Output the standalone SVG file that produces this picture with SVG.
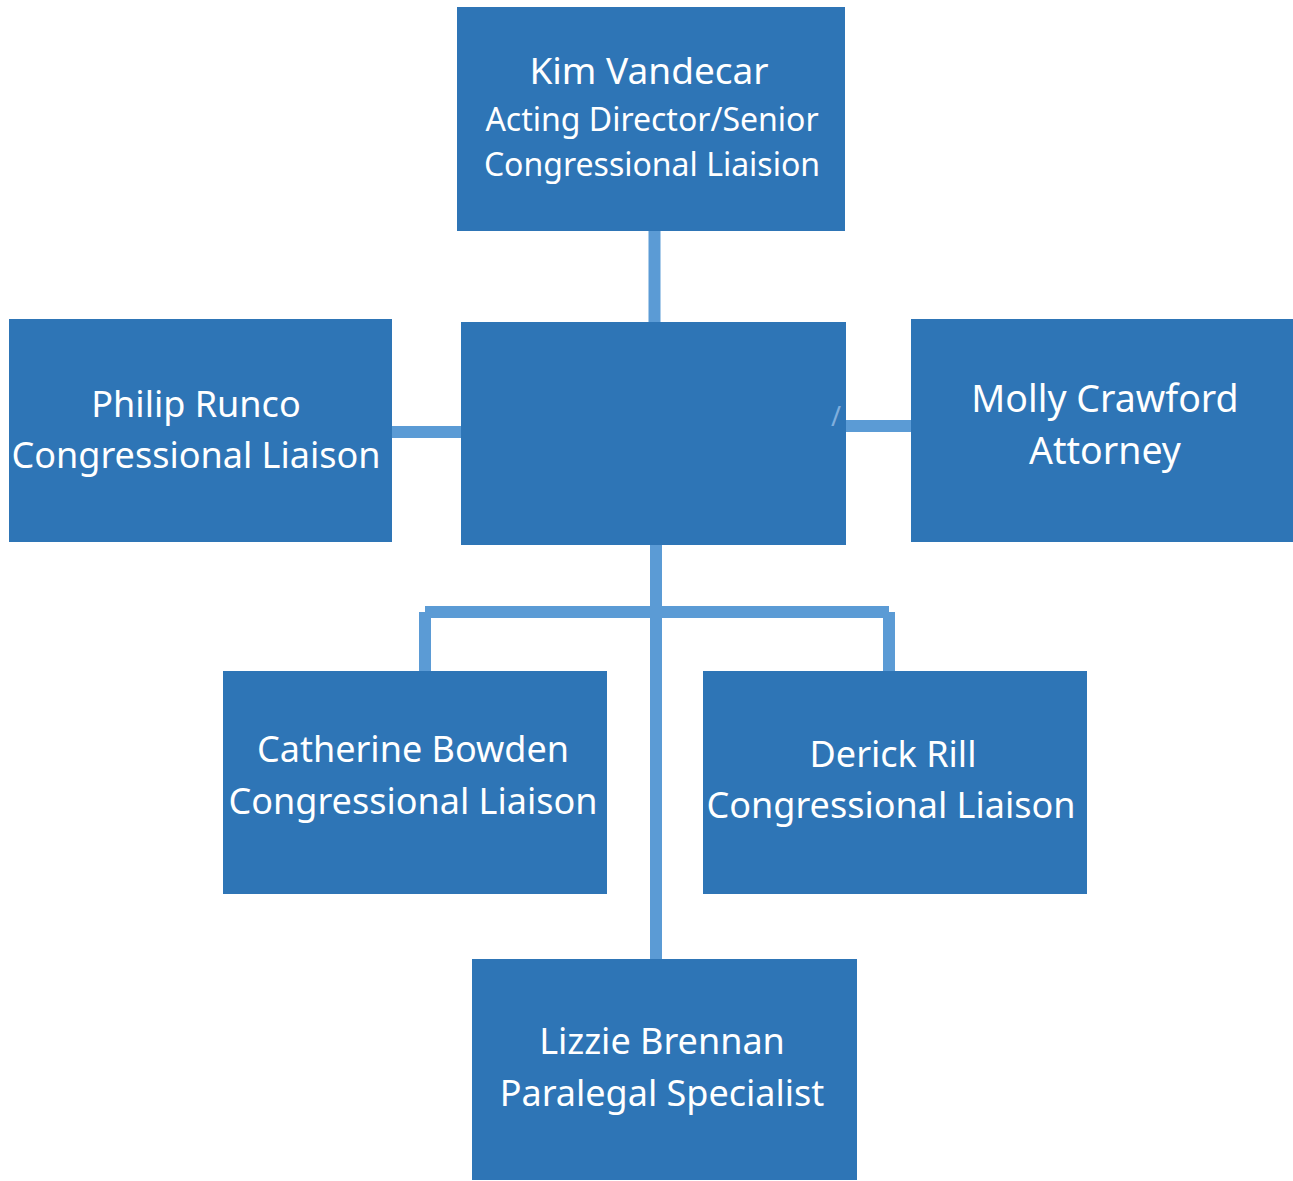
<svg xmlns="http://www.w3.org/2000/svg" width="1293" height="1181" viewBox="0 0 1293 1181">
<style>
.box{fill:#2E75B6}
.t{fill:#FFFFFF;font-family:"Noto Sans","Liberation Sans",sans-serif;font-size:36px;text-anchor:middle}
.s{font-size:32px}
.c{stroke:#5B9BD5;stroke-width:12;fill:none}
</style>
<rect width="1293" height="1181" fill="#FFFFFF"/>
<g id="connectors">
<line class="c" x1="654.5" y1="231" x2="654.5" y2="322"/>
<line class="c" x1="392" y1="432" x2="461" y2="432"/>
<line class="c" x1="846" y1="426" x2="911" y2="426"/>
<line class="c" x1="656" y1="545" x2="656" y2="959"/>
<line class="c" x1="425" y1="612" x2="889" y2="612"/>
<line class="c" x1="425" y1="612" x2="425" y2="671"/>
<line class="c" x1="889" y1="612" x2="889" y2="671"/>
</g>
<g id="kim">
<rect class="box" x="457" y="7" width="388" height="224"/>
<text class="t" x="649" y="84" style="font-size:37px">Kim Vandecar</text>
<text class="t s" x="652" y="131">Acting Director/Senior</text>
<text class="t s" x="652" y="176">Congressional Liaision</text>
</g>
<g id="center">
<rect class="box" x="461" y="322" width="385" height="223"/>
<text x="836" y="426" style="fill:#7FAEDD;font-family:'Noto Sans',sans-serif;font-size:27px;text-anchor:middle">/</text>
</g>
<g id="philip">
<rect class="box" x="9" y="319" width="383" height="223"/>
<text class="t" x="196" y="417">Philip Runco</text>
<text class="t" x="196" y="468">Congressional Liaison</text>
</g>
<g id="molly">
<rect class="box" x="911" y="319" width="382" height="223"/>
<text class="t" x="1105" y="412" style="font-size:37.5px">Molly Crawford</text>
<text class="t" x="1105" y="464" style="font-size:37.5px">Attorney</text>
</g>
<g id="catherine">
<rect class="box" x="223" y="671" width="384" height="223"/>
<text class="t" x="413" y="762">Catherine Bowden</text>
<text class="t" x="413" y="814">Congressional Liaison</text>
</g>
<g id="derick">
<rect class="box" x="703" y="671" width="384" height="223"/>
<text class="t" x="893" y="767">Derick Rill</text>
<text class="t" x="891" y="818">Congressional Liaison</text>
</g>
<g id="lizzie">
<rect class="box" x="472" y="959" width="385" height="221"/>
<text class="t" x="662" y="1054">Lizzie Brennan</text>
<text class="t" x="662" y="1106">Paralegal Specialist</text>
</g>
</svg>
